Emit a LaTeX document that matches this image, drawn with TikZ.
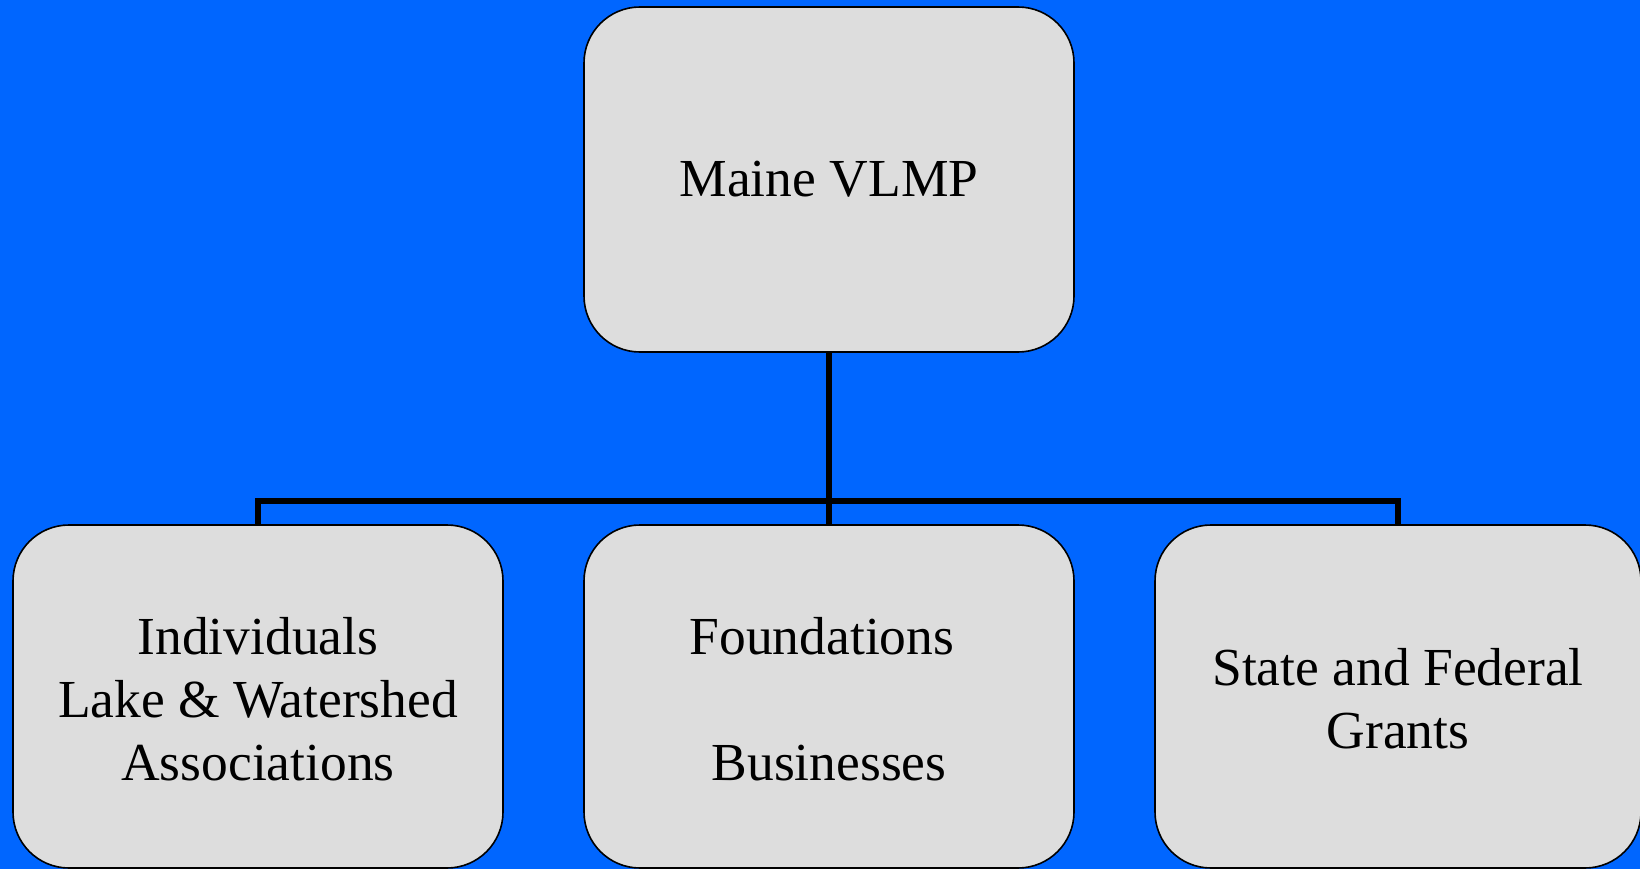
\documentclass[tikz,border=0pt]{standalone}
\usepackage{fontspec}
\setmainfont{Liberation Serif}
\definecolor{slidebg}{RGB}{0,102,255}
\definecolor{boxfill}{RGB}{221,221,221}
\begin{document}
\begin{tikzpicture}[x=1pt,y=-1pt,
  orgbox/.style={draw=black, line width=1.6pt, fill=boxfill, rounded corners=56pt,
    minimum width=490pt, inner sep=0pt, align=center,
    font=\fontsize{53.5}{63}\selectfont},
  boxtext/.style={label={[align=center, font=\fontsize{53.5}{63}\selectfont,
    yshift=-2.5pt]center:#1}},
  link/.style={draw=black, line width=5.5pt}]
  % slide background
  \fill[slidebg] (0,0) rectangle (1640,869);
  \useasboundingbox (0,0) rectangle (1640,869);

  % boxes
  \node[orgbox, minimum height=345pt] (top) at (829,179.5) {Maine VLMP};
  \node[orgbox, minimum height=343pt,
    boxtext={Individuals\\Lake \& Watershed\\Associations}] (ind) at (258,696.5) {};
  \node[orgbox, minimum height=343pt,
    boxtext={Foundations\hspace*{14pt}\\\mbox{}\\Businesses}] (fnd) at (829,696.5) {};
  \node[orgbox, minimum height=343pt, minimum width=486pt,
    boxtext={State and Federal\\Grants}] (gov) at (1398,696.5) {};

  % connectors
  \coordinate (bar) at (829,501);
  \draw[link] (top.south) -- (fnd.north);
  \draw[link] (ind.north) |- (bar) -| (gov.north);
\end{tikzpicture}
\end{document}
